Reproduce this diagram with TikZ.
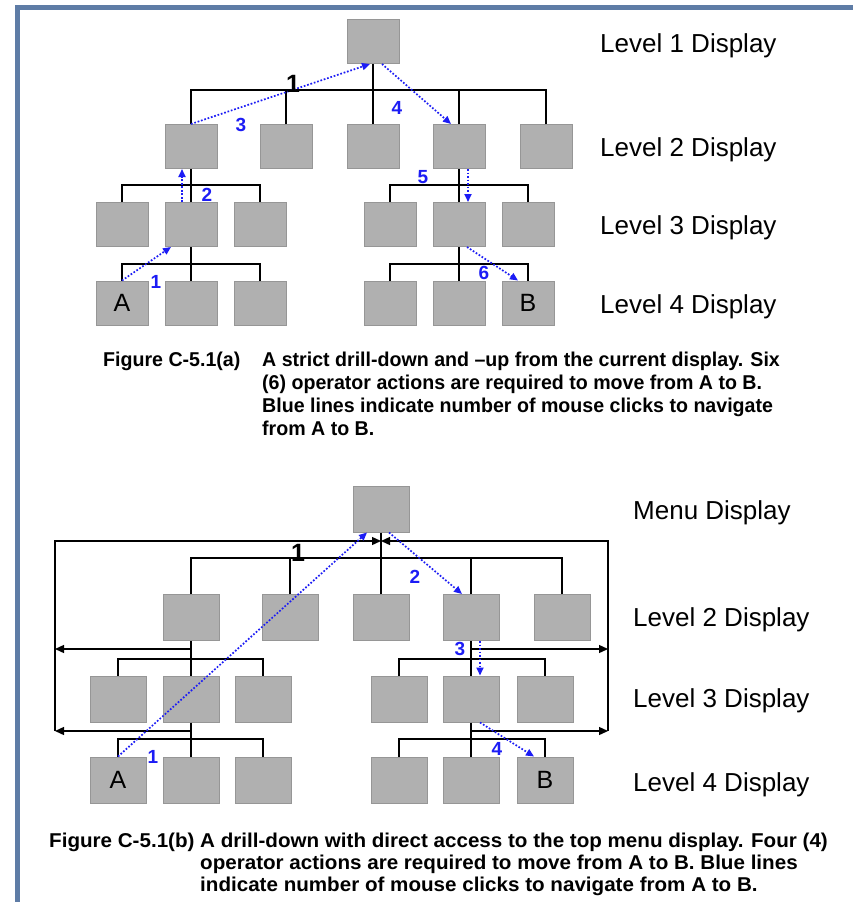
\documentclass[tikz,border=0pt]{standalone}
\usepackage{fontspec}
\setmainfont{Liberation Sans}
\newfontfamily\capfonta[FakeStretch=0.98]{Liberation Sans}
\newfontfamily\capfontb[FakeStretch=1.03]{Liberation Sans}
\usetikzlibrary{arrows.meta}

\definecolor{framecol}{RGB}{94,124,166}
\definecolor{boxfill}{RGB}{176,176,176}
\definecolor{boxline}{RGB}{150,150,150}
\definecolor{clickblue}{RGB}{28,28,245}

\begin{document}
\begin{tikzpicture}[x=1pt,y=-1pt,
  screenA/.style={draw=boxline, fill=boxfill, line width=1pt, minimum width=52pt,
    minimum height=44pt, inner sep=0pt, font=\fontsize{25}{25}\selectfont},
  screenB/.style={screenA, minimum width=56pt, minimum height=46pt},
  link/.style={line width=1.3pt, black},
  jump/.style={line width=1.3pt, black, -{Triangle[length=9pt,width=8pt]}},
  click/.style={clickblue, line width=1.7pt, dash pattern=on 1.7pt off 1.8pt,
    -{Triangle[length=8pt,width=7pt]}},
  clicknum/.style={text=clickblue, font=\bfseries\fontsize{19}{19}\selectfont, inner sep=0pt},
  stepnum/.style={font=\bfseries\fontsize{25}{25}\selectfont, inner sep=0pt},
  levellabel/.style={anchor=base west, font=\fontsize{26}{26}\selectfont, inner sep=0pt},
  captitle/.style={anchor=north west, inner sep=0pt, font=\capfonta\bfseries\fontsize{20}{23}\selectfont},
  captext/.style={captitle, align=left}
]
\useasboundingbox (0,0) rectangle (853,902);
\fill[white] (0,0) rectangle (853,902);

% page frame
\draw[line width=5pt, framecol] (17.5,902) -- (17.5,7.5) -- (853,7.5);

% ---------------- (a) strict drill-down ----------------
\node[screenA] (atop) at (373,41.5) {};
\foreach \n/\x in {a/191,b/286,c/373,d/459,e/546}
  \node[screenA] (a2\n) at (\x,146.5) {};
\foreach \n/\x in {a/122,b/191,c/260,d/390,e/459,f/528}
  \node[screenA] (a3\n) at (\x,224.5) {};
\node[screenA] (a4a) at (122,303) {A};
\node[screenA] (a4b) at (191,303) {};
\node[screenA] (a4c) at (260,303) {};
\node[screenA] (a4d) at (390,303) {};
\node[screenA] (a4e) at (459,303) {};
\node[screenA] (a4f) at (528,303) {B};

% tree buses
\coordinate (abus1) at (373,90);
\coordinate (abus2l) at (191,185);
\coordinate (abus2r) at (459,185);
\coordinate (abus3l) at (191,264);
\coordinate (abus3r) at (459,264);
\draw[link] (atop.south) -- (abus1);
\foreach \n in {a,b,c,d,e} \draw[link] (a2\n.north) |- (abus1);
\draw[link] (a2a.south) -- (abus2l);
\foreach \n in {a,b,c} \draw[link] (a3\n.north) |- (abus2l);
\draw[link] (a2d.south) -- (abus2r);
\foreach \n in {d,e,f} \draw[link] (a3\n.north) |- (abus2r);
\draw[link] (a3b.south) -- (abus3l);
\foreach \n in {a,b,c} \draw[link] (a4\n.north) |- (abus3l);
\draw[link] (a3e.south) -- (abus3r);
\foreach \n in {d,e,f} \draw[link] (a4\n.north) |- (abus3r);

% navigation clicks
\draw[click] (a4a.north) -- ([xshift=-20pt]a3b.south);
\draw[click] ([xshift=-9pt]a3b.north) -- ([xshift=-9pt]a2a.south);
\draw[click] (a2a.north) -- ([xshift=-3pt]atop.south);
\draw[click] ([xshift=9pt]atop.south) -- ([xshift=-8pt]a2d.north);
\draw[click] ([xshift=9pt]a2d.south) -- ([xshift=9pt]a3e.north);
\draw[click] ([xshift=8pt]a3e.south) -- ([xshift=-10pt]a4f.north);

\node[stepnum] (anum) at (293,84) {1};
\node[clicknum] (ac1) at (156,282) {1};
\node[clicknum] (ac2) at (207,195) {2};
\node[clicknum] (ac3) at (241,125) {3};
\node[clicknum] (ac4) at (397,108) {4};
\node[clicknum] (ac5) at (423,177) {5};
\node[clicknum] (ac6) at (484,273) {6};

\node[levellabel] (alev1) at (600,52) {Level 1 Display};
\node[levellabel] (alev2) at (600,156) {Level 2 Display};
\node[levellabel] (alev3) at (600,234) {Level 3 Display};
\node[levellabel] (alev4) at (600,313) {Level 4 Display};

\node[captitle] (acapt) at (103,352) {Figure C-5.1(a)};
\node[captext] (acapx) at (262,352) {A strict drill-down and –up from the current display. Six\\
(6) operator actions are required to move from A to B.\\
Blue lines indicate number of mouse clicks to navigate\\
from A to B.};

% ---------------- (b) drill-down with menu access ----------------
\node[screenB] (btop) at (381,509) {};
\foreach \n/\x in {a/191,b/290,c/381,d/471,e/562}
  \node[screenB] (b2\n) at (\x,617.5) {};
\foreach \n/\x in {a/118,b/191,c/263,d/399,e/471,f/545}
  \node[screenB] (b3\n) at (\x,699) {};
\node[screenB] (b4a) at (118,780) {A};
\node[screenB] (b4b) at (191,780) {};
\node[screenB] (b4c) at (263,780) {};
\node[screenB] (b4d) at (399,780) {};
\node[screenB] (b4e) at (471,780) {};
\node[screenB] (b4f) at (545,780) {B};

\coordinate (bbus1) at (381,558);
\coordinate (bbus2l) at (191,659);
\coordinate (bbus2r) at (471,659);
\coordinate (bbus3l) at (191,739);
\coordinate (bbus3r) at (471,739);
\draw[link] (btop.south) -- (bbus1);
\foreach \n in {a,b,c,d,e} \draw[link] (b2\n.north) |- (bbus1);
\draw[link] (b2a.south) -- (bbus2l);
\foreach \n in {a,b,c} \draw[link] (b3\n.north) |- (bbus2l);
\draw[link] (b2d.south) -- (bbus2r);
\foreach \n in {d,e,f} \draw[link] (b3\n.north) |- (bbus2r);
\draw[link] (b3b.south) -- (bbus3l);
\foreach \n in {a,b,c} \draw[link] (b4\n.north) |- (bbus3l);
\draw[link] (b3e.south) -- (bbus3r);
\foreach \n in {d,e,f} \draw[link] (b4\n.north) |- (bbus3r);

% direct-access return loops to the menu display
\coordinate (bmenuin) at (381,541);
\coordinate (bltop) at (55,541);
\coordinate (blbot) at (55,731);
\coordinate (brtop) at (608,541);
\coordinate (brbot) at (608,731);
\coordinate (bl2) at (55,649);
\coordinate (bl3) at (55,731);
\coordinate (br2) at (608,649);
\coordinate (br3) at (608,731);
\coordinate (btap2l) at (191,649);
\coordinate (btap3l) at (191,731);
\coordinate (btap2r) at (471,649);
\coordinate (btap3r) at (471,731);
\draw[jump] (blbot) -- (bltop) -- (bmenuin);
\draw[jump] (brbot) -- (brtop) -- (bmenuin);
\draw[jump] (btap2l) -- (bl2);
\draw[jump] (btap3l) -- (bl3);
\draw[jump] (btap2r) -- (br2);
\draw[jump] (btap3r) -- (br3);

\draw[click] (b4a.north) -- ([xshift=-14pt]btop.south);
\draw[click] ([xshift=8pt]btop.south) -- ([xshift=-9pt]b2d.north);
\draw[click] ([xshift=9pt]b2d.south) -- ([xshift=9pt]b3e.north);
\draw[click] ([xshift=9pt]b3e.south) -- ([xshift=-11pt]b4f.north);

\node[stepnum] (bnum) at (298,553) {1};
\node[clicknum] (bc1) at (153,757) {1};
\node[clicknum] (bc2) at (415,577) {2};
\node[clicknum] (bc3) at (460,649) {3};
\node[clicknum] (bc4) at (497,749) {4};

\node[levellabel] (blev1) at (633,519) {Menu Display};
\node[levellabel] (blev2) at (633,626) {Level 2 Display};
\node[levellabel] (blev3) at (633,707) {Level 3 Display};
\node[levellabel] (blev4) at (633,791) {Level 4 Display};

\node[captitle, font=\capfontb\bfseries\fontsize{20}{22}\selectfont] (bcapt) at (49,833) {Figure C-5.1(b)};
\node[captext, font=\capfontb\bfseries\fontsize{20}{22}\selectfont] (bcapx) at (200,833) {A drill-down with direct access to the top menu display. Four (4)\\
operator actions are required to move from A to B. Blue lines\\
indicate number of mouse clicks to navigate from A to B.};
\end{tikzpicture}
\end{document}
